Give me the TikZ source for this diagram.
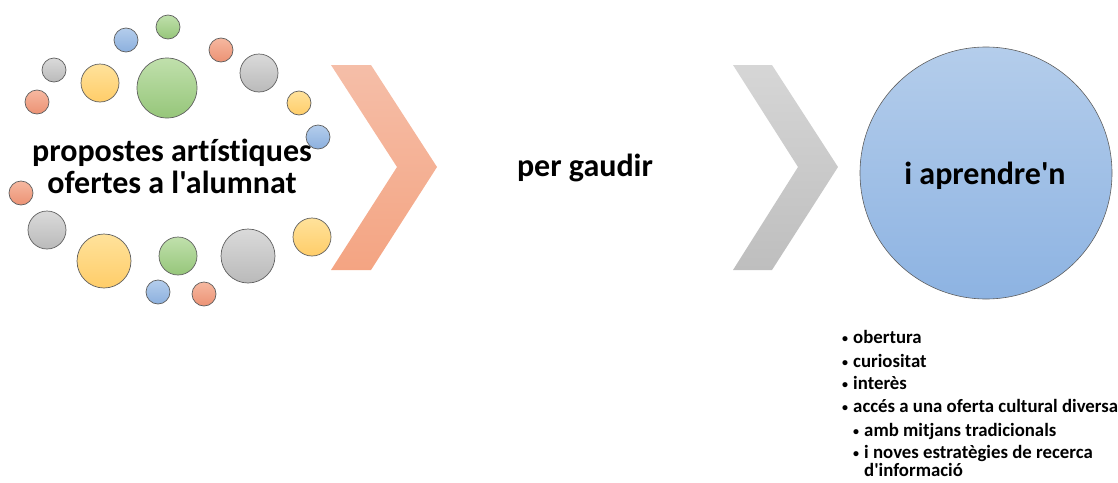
\documentclass[tikz,border=0pt]{standalone}
\usepackage{fontspec}
\setmainfont{Carlito}[Ligatures={TeXOff,CommonOff}]
\definecolor{blueT}{RGB}{180,205,236}
\definecolor{blueB}{RGB}{140,176,222}
\definecolor{greenT}{RGB}{192,224,172}
\definecolor{greenB}{RGB}{150,198,122}
\definecolor{redT}{RGB}{246,184,160}
\definecolor{redB}{RGB}{236,146,116}
\definecolor{grayT}{RGB}{218,218,218}
\definecolor{grayB}{RGB}{186,186,186}
\definecolor{yelT}{RGB}{255,226,155}
\definecolor{yelB}{RGB}{255,205,105}
\definecolor{chevOT}{RGB}{245,190,168}
\definecolor{chevOB}{RGB}{244,164,130}
\definecolor{chevGT}{RGB}{214,214,214}
\definecolor{chevGB}{RGB}{190,190,190}
\definecolor{bigT}{RGB}{180,205,235}
\definecolor{bigB}{RGB}{141,179,226}
\definecolor{rim}{RGB}{95,95,95}
\newcommand{\blt}{\makebox[11pt][l]{\raisebox{1pt}{\fontsize{12}{12}\selectfont •}}}
\tikzset{
  dot/.style={circle, inner sep=0pt, draw=rim, line width=0.7pt},
  bluedot/.style={dot, top color=blueT, bottom color=blueB},
  greendot/.style={dot, top color=greenT, bottom color=greenB},
  reddot/.style={dot, top color=redT, bottom color=redB},
  graydot/.style={dot, top color=grayT, bottom color=grayB},
  yeldot/.style={dot, top color=yelT, bottom color=yelB},
  bigtext/.style={font=\bfseries\fontsize{32}{31.5}\selectfont, align=center, inner sep=0pt},
  listtext/.style={font=\bfseries\fontsize{18.8}{18}\selectfont, anchor=base west, inner sep=0pt},
}
\begin{document}
\begin{tikzpicture}[x=1pt,y=-1pt]
\useasboundingbox (0,0) rectangle (1118,482);
% small circles
\node[bluedot, minimum size=24pt] (c1) at (126,40) {};
\node[greendot, minimum size=24pt] (c2) at (168,27) {};
\node[reddot, minimum size=24pt] (c3) at (221,50) {};
\node[graydot, minimum size=38pt] (c4) at (259,73) {};
\node[yeldot, minimum size=24pt] (c5) at (299,103) {};
\node[bluedot, minimum size=24pt] (c6) at (318,137) {};
\node[graydot, minimum size=24pt] (c7) at (54,70) {};
\node[yeldot, minimum size=38pt] (c8) at (100,83) {};
\node[greendot, minimum size=60pt] (c9) at (167,88) {};
\node[reddot, minimum size=24pt] (c10) at (37,102) {};
\node[reddot, minimum size=24pt] (c11) at (21,193) {};
\node[graydot, minimum size=38pt] (c12) at (47,230) {};
\node[yeldot, minimum size=54pt] (c13) at (104,261) {};
\node[greendot, minimum size=38pt] (c14) at (178,256) {};
\node[bluedot, minimum size=24pt] (c15) at (158,292) {};
\node[reddot, minimum size=24pt] (c16) at (204,294) {};
\node[graydot, minimum size=54pt] (c17) at (248,256) {};
\node[yeldot, minimum size=38pt] (c18) at (312,237) {};
% chevrons
\shade[top color=chevOT, bottom color=chevOB]
  (331,65) -- (371,65) -- (437,167) -- (371,270) -- (331,270) -- (397,167) -- cycle;
\shade[top color=chevGT, bottom color=chevGB]
  (733,65) -- (772,65) -- (838,167) -- (772,270) -- (733,270) -- (798,167) -- cycle;
% big circle
\node[circle, inner sep=0pt, minimum size=252pt, draw=rim, line width=0.6pt,
      top color=bigT, bottom color=bigB] (big) at (986,173) {};
% texts
\node[bigtext, anchor=base] (t1) at (172,193) {propostes artístiques\\ofertes a l'alumnat};
\node[bigtext] (t2) at (585,168) {per gaudir};
\node[bigtext, anchor=base] (t3) at (985,184) {i aprendre'n};
\node[listtext] (l1) at (842,343) {\blt obertura};
\node[listtext] (l2) at (842,367) {\blt curiositat};
\node[listtext] (l3) at (842,389) {\blt interès};
\node[listtext] (l4) at (842,412) {\blt accés a una oferta cultural diversa};
\node[listtext] (l5) at (853,436) {\blt amb mitjans tradicionals};
\node[listtext] (l6) at (853,458) {\blt i noves estratègies de recerca};
\node[listtext] (l7) at (864,476) {d'informació};
\end{tikzpicture}
\end{document}
